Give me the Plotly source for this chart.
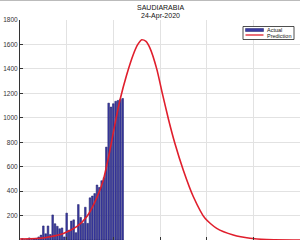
import plotly.graph_objects as go

# Daily actual cases (day index, count)
bar_days = list(range(1, 45))
bar_vals = [12, 3, 4, 17, 4, 8, 14, 25, 40, 115, 51, 115, 45, 205, 133, 112,
            92, 99, 25, 220, 80, 155, 165, 60, 290, 185, 138, 268, 136, 345,
            360, 380, 450, 430, 485, 510, 760, 1120, 1088, 1115, 1135, 1142,
            1150, 1158]

# Prediction curve (day index, value)
pred_days = [0, 4.3, 8.6, 12.9, 18.6, 24.3, 28.6, 32.9, 35.7, 38.6, 40.7, 42.9,
             45.7, 48.6, 50.5, 52.2, 54, 55.7, 58.6, 61, 63.6, 66.4, 70, 74.3,
             79.3, 84.3, 91.4, 98.6, 105.7, 120]
pred_vals = [8, 10, 14, 27, 54, 109, 190, 345, 490, 740, 950, 1150, 1350, 1520,
             1600, 1638, 1625, 1570, 1400, 1200, 990, 789, 571, 354, 177, 95,
             41, 14, 4, 0]

title_lines = ["SAUDIARABIA", "24-Apr-2020"]
legend_names = ["Actual", "Prediction"]
y_ticks = list(range(0, 2000, 200))
x_ticks = list(range(0, 140, 20))

BAR_COLOR = "#3a3aa2"
LINE_COLOR = "#e01e2c"

fig = go.Figure()
fig.add_trace(go.Bar(x=bar_days, y=bar_vals, name=legend_names[0], width=0.72,
                     marker=dict(color=BAR_COLOR, line=dict(color="#1c1c66", width=0.5))))
fig.add_trace(go.Scatter(x=pred_days, y=pred_vals, name=legend_names[1], mode="lines",
                         line=dict(color=LINE_COLOR, width=1.6, shape="spline", smoothing=0.6)))

fig.update_layout(
    width=300, height=240,
    margin=dict(l=20, r=0, t=20, b=0),
    paper_bgcolor="white", plot_bgcolor="white",
    font=dict(family="Liberation Sans, Arial, sans-serif", size=7, color="#222"),
    showlegend=False,
    xaxis=dict(range=[0, 120], tickvals=x_ticks, showticklabels=False,
               showgrid=True, gridcolor="#e2e2e2", gridwidth=1,
               ticks="inside", ticklen=3, tickcolor="#333",
               showline=True, linecolor="#333", linewidth=1, zeroline=False),
    yaxis=dict(range=[0, 1800], tickvals=y_ticks, automargin=False,
               showgrid=True, gridcolor="#e2e2e2", gridwidth=1,
               ticks="inside", ticklen=3, tickcolor="#333",
               showline=True, linecolor="#333", linewidth=1, zeroline=False,
               tickfont=dict(size=6.5, color="#333")),
)

def px_x(px):
    return (px - 20) / 280

def px_y(py):
    return 1 - (py - 20) / 220

# title (two lines)
fig.add_annotation(text=title_lines[0], xref="paper", yref="paper", x=px_x(160), y=px_y(7.5),
                   xanchor="center", yanchor="middle", showarrow=False,
                   font=dict(size=7, color="#111"))
fig.add_annotation(text=title_lines[1], xref="paper", yref="paper", x=px_x(160), y=px_y(16),
                   xanchor="center", yanchor="middle", showarrow=False,
                   font=dict(size=7, color="#111"))

# top border line of figure
fig.add_shape(type="line", xref="paper", yref="paper", x0=-0.1, x1=1.1,
              y0=px_y(0.5), y1=px_y(0.5), line=dict(color="#bbbbbb", width=1))

# compact legend box
fig.add_shape(type="rect", xref="paper", yref="paper", x0=px_x(243), x1=px_x(294),
              y0=px_y(39.5), y1=px_y(26.5), line=dict(color="#222", width=0.8), fillcolor="white")
fig.add_shape(type="rect", xref="paper", yref="paper", x0=px_x(245.5), x1=px_x(263.5),
              y0=px_y(31.5), y1=px_y(28.5), line=dict(color="#1c1c66", width=0.5),
              fillcolor=BAR_COLOR)
fig.add_shape(type="line", xref="paper", yref="paper", x0=px_x(245.5), x1=px_x(263.5),
              y0=px_y(35), y1=px_y(35), line=dict(color=LINE_COLOR, width=1.3))
fig.add_annotation(text=legend_names[0], xref="paper", yref="paper", x=px_x(265), y=px_y(29.8),
                   xanchor="left", yanchor="middle", showarrow=False,
                   font=dict(size=5.5, color="#111"))
fig.add_annotation(text=legend_names[1], xref="paper", yref="paper", x=px_x(265), y=px_y(35.6),
                   xanchor="left", yanchor="middle", showarrow=False,
                   font=dict(size=5.5, color="#111"))

fig.write_html("out.html")
